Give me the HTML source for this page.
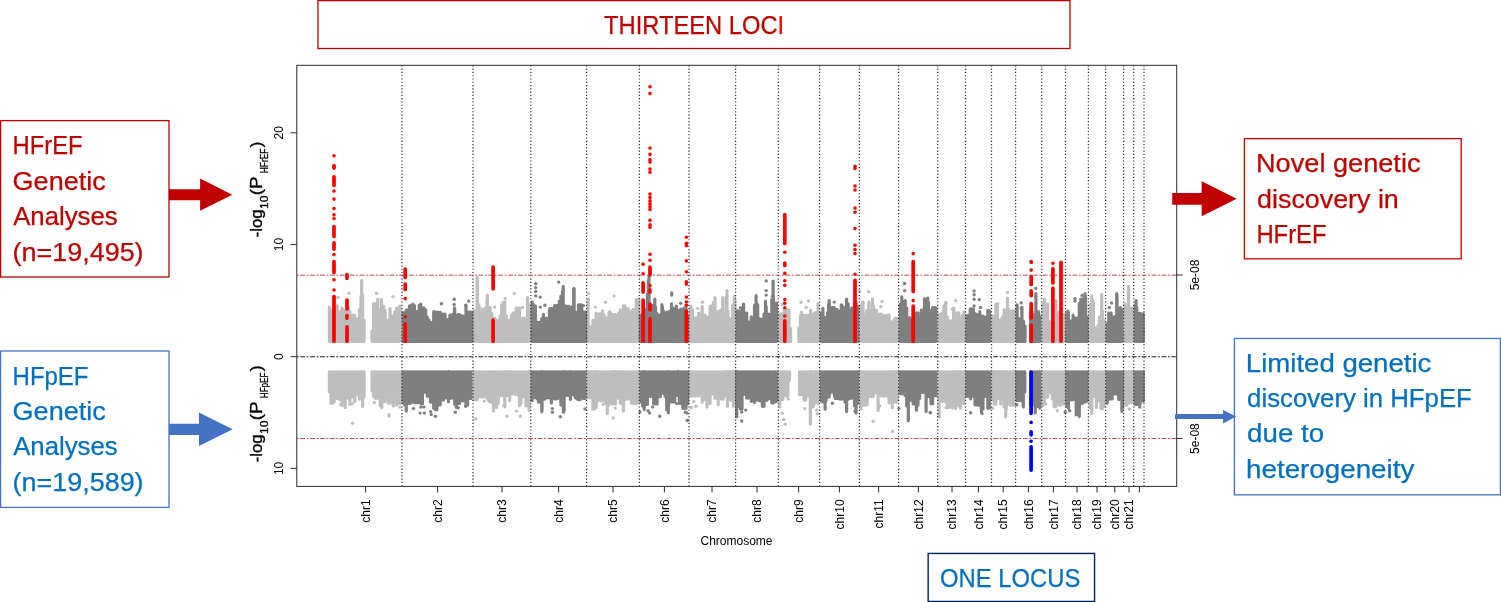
<!DOCTYPE html>
<html lang="en"><head><meta charset="utf-8"><title>HFrEF and HFpEF genetic analyses</title>
<style>html,body{margin:0;padding:0;background:#fff;overflow:hidden}svg{display:block}text{font-family:"Liberation Sans",sans-serif}.ax{font-size:12px;fill:#000}.bx{font-size:26.4px;stroke-width:.25px}.r{fill:#c00000;stroke:#c00000}.b{fill:#0070c0;stroke:#0070c0}.yl{fill:#000;stroke:#000;stroke-width:.33px;stroke-linejoin:round}</style></head><body>
<svg width="1501" height="602" viewBox="0 0 1501 602">
<rect width="1501" height="602" fill="#fff"/>
<g id="manhattan">
<path d="M361.7 341.5V280.7M329.4 341.5V307.0M331.0 341.5V309.6M332.5 341.5V315.1M334.1 341.5V309.5M335.7 341.5V309.3M337.3 341.5V305.8M338.9 341.5V312.4M340.4 341.5V311.6M342.0 341.5V308.0M343.6 341.5V310.2M345.2 341.5V311.9M346.8 341.5V311.9M348.3 341.5V306.7M349.9 341.5V311.1M351.5 341.5V320.8M353.1 341.5V315.1M354.7 341.5V315.1M356.2 341.5V323.4M357.8 341.5V318.6M359.4 341.5V309.5M361.0 341.5V296.1M362.6 341.5V294.7M364.1 341.5V320.3M377.7 341.5V299.0M381.5 341.5V299.0M383.7 341.5V306.4M389.9 341.5V316.2M372.0 341.5V331.2M373.6 341.5V303.5M375.2 341.5V303.5M376.9 341.5V309.4M378.5 341.5V309.4M380.2 341.5V309.4M381.8 341.5V310.5M383.4 341.5V310.5M385.1 341.5V310.5M386.7 341.5V320.7M388.4 341.5V320.7M390.0 341.5V308.6M391.7 341.5V315.8M393.3 341.5V315.8M394.9 341.5V311.7M396.6 341.5V308.2M398.2 341.5V308.2M399.9 341.5V306.0M473.9 341.5V310.9M477.2 341.5V277.3M484.0 341.5V313.2M487.4 341.5V295.2M497.5 341.5V320.6M504.6 341.5V306.4M518.4 341.5V313.2M522.9 341.5V320.6M528.9 341.5V304.2M474.0 341.5V315.0M475.7 341.5V310.0M477.3 341.5V281.3M478.9 341.5V304.8M480.5 341.5V309.0M482.1 341.5V309.0M483.8 341.5V318.3M485.4 341.5V308.1M487.0 341.5V299.0M488.6 341.5V307.7M490.2 341.5V307.7M491.9 341.5V313.6M493.5 341.5V318.3M495.1 341.5V318.3M496.7 341.5V324.9M498.3 341.5V324.9M500.0 341.5V315.9M501.6 341.5V305.2M503.2 341.5V302.1M504.8 341.5V302.1M506.5 341.5V315.8M508.1 341.5V320.7M509.7 341.5V320.7M511.3 341.5V315.3M512.9 341.5V313.2M514.6 341.5V313.2M516.2 341.5V308.1M517.8 341.5V308.1M519.4 341.5V308.1M521.0 341.5V318.4M522.7 341.5V318.4M524.3 341.5V318.4M525.9 341.5V323.3M527.5 341.5V297.6M529.1 341.5V308.5M587.8 341.5V306.4M596.1 341.5V313.2M609.6 341.5V311.7M614.4 341.5V315.4M618.6 341.5V313.2M638.9 341.5V299.0M588.1 341.5V300.7M589.7 341.5V326.8M591.3 341.5V326.8M592.9 341.5V320.3M594.5 341.5V320.3M596.1 341.5V321.8M597.7 341.5V321.8M599.3 341.5V313.9M600.9 341.5V313.9M602.5 341.5V310.8M604.1 341.5V315.2M605.7 341.5V320.0M607.3 341.5V317.5M608.9 341.5V313.2M610.5 341.5V313.2M612.1 341.5V314.7M613.8 341.5V314.7M615.4 341.5V314.7M617.0 341.5V315.0M618.6 341.5V315.0M620.2 341.5V309.9M621.8 341.5V312.5M623.4 341.5V305.9M625.0 341.5V305.9M626.6 341.5V308.7M628.2 341.5V308.7M629.8 341.5V311.5M631.4 341.5V311.5M633.0 341.5V309.7M634.6 341.5V309.7M636.2 341.5V299.9M637.8 341.5V299.9M691.0 341.5V306.4M702.2 341.5V306.4M713.5 341.5V302.0M722.8 341.5V297.5M727.0 341.5V290.7M735.0 341.5V300.5M690.8 341.5V309.7M692.4 341.5V309.7M694.0 341.5V319.2M695.6 341.5V317.8M697.2 341.5V317.8M698.8 341.5V313.0M700.5 341.5V314.4M702.1 341.5V307.3M703.7 341.5V315.4M705.3 341.5V315.4M706.9 341.5V317.3M708.5 341.5V317.3M710.1 341.5V306.0M711.8 341.5V306.0M713.4 341.5V302.6M715.0 341.5V297.7M716.6 341.5V311.5M718.2 341.5V311.5M719.8 341.5V310.7M721.4 341.5V309.9M723.1 341.5V314.3M724.7 341.5V314.3M726.3 341.5V297.0M727.9 341.5V311.4M729.5 341.5V318.8M731.1 341.5V318.8M732.7 341.5V305.3M734.4 341.5V296.0M779.7 341.5V314.2M781.3 341.5V314.2M782.8 341.5V314.2M784.4 341.5V309.4M785.9 341.5V309.4M787.5 341.5V310.0M789.0 341.5V310.0M790.6 341.5V328.6M801.4 341.5V312.4M806.2 341.5V315.4M810.7 341.5V310.2M814.1 341.5V315.4M818.0 341.5V303.4M798.9 341.5V327.8M800.5 341.5V315.9M802.1 341.5V315.3M803.7 341.5V315.3M805.3 341.5V318.6M806.9 341.5V318.6M808.5 341.5V315.3M810.1 341.5V315.3M811.7 341.5V314.4M813.3 341.5V314.4M814.9 341.5V312.6M816.5 341.5V312.6M818.1 341.5V309.0M863.0 341.5V302.0M866.4 341.5V310.9M869.0 341.5V302.0M872.5 341.5V299.0M860.9 341.5V305.5M862.4 341.5V304.3M864.0 341.5V316.3M865.6 341.5V316.3M867.2 341.5V316.3M868.7 341.5V303.0M870.3 341.5V310.5M871.9 341.5V310.5M873.4 341.5V305.7M875.0 341.5V310.1M876.6 341.5V310.1M878.1 341.5V319.7M879.7 341.5V314.1M881.3 341.5V314.1M882.9 341.5V316.2M884.4 341.5V315.6M886.0 341.5V315.6M887.6 341.5V315.1M889.1 341.5V315.1M890.7 341.5V322.0M892.3 341.5V322.0M893.8 341.5V320.2M895.4 341.5V318.4M897.0 341.5V318.4M950.2 341.5V321.4M953.5 341.5V310.9M958.0 341.5V314.7M939.1 341.5V314.0M940.7 341.5V314.0M942.4 341.5V312.9M944.0 341.5V306.0M945.7 341.5V302.4M947.3 341.5V316.8M949.0 341.5V320.9M950.6 341.5V320.9M952.3 341.5V320.9M953.9 341.5V308.0M955.6 341.5V317.9M957.2 341.5V312.8M958.9 341.5V312.8M960.5 341.5V320.0M962.2 341.5V315.5M963.8 341.5V312.0M1007.5 341.5V298.2M992.6 341.5V316.0M994.2 341.5V316.0M995.9 341.5V304.4M997.5 341.5V305.9M999.1 341.5V321.1M1000.8 341.5V319.3M1002.4 341.5V317.1M1004.1 341.5V309.8M1005.7 341.5V309.8M1007.3 341.5V309.6M1009.0 341.5V309.6M1010.6 341.5V311.3M1012.2 341.5V311.3M1013.9 341.5V310.7M1044.3 341.5V299.0M1053.0 341.5V322.1M1056.0 341.5V300.5M1042.9 341.5V304.0M1044.5 341.5V306.1M1046.1 341.5V306.1M1047.7 341.5V303.9M1049.3 341.5V321.8M1050.9 341.5V321.8M1052.5 341.5V324.8M1054.1 341.5V324.8M1055.7 341.5V324.8M1057.3 341.5V312.5M1058.9 341.5V312.5M1060.5 341.5V311.7M1062.1 341.5V314.4M1063.7 341.5V314.4M1092.5 341.5V302.7M1101.7 341.5V294.5M1090.3 341.5V304.4M1091.8 341.5V296.2M1093.4 341.5V301.9M1094.9 341.5V327.9M1096.4 341.5V327.9M1097.9 341.5V325.7M1099.4 341.5V316.9M1101.0 341.5V319.5M1102.5 341.5V311.2M1104.0 341.5V320.0M1128.6 341.5V286.3M1125.1 341.5V303.9M1126.8 341.5V308.8M1128.6 341.5V288.0M1130.3 341.5V308.2M1132.0 341.5V308.2" stroke="#bebebe" stroke-width="3.2" stroke-linecap="round" fill="none"/>
<path d="M412.8 341.5V304.2M434.6 341.5V314.2M454.4 341.5V307.9M471.7 341.5V312.4M403.1 341.5V312.9M404.7 341.5V312.9M406.3 341.5V310.0M407.9 341.5V310.0M409.5 341.5V305.8M411.1 341.5V305.6M412.7 341.5V305.6M414.4 341.5V305.6M416.0 341.5V311.5M417.6 341.5V311.5M419.2 341.5V305.3M420.8 341.5V304.2M422.4 341.5V307.8M424.0 341.5V307.8M425.7 341.5V309.8M427.3 341.5V317.0M428.9 341.5V319.9M430.5 341.5V322.5M432.1 341.5V322.5M433.7 341.5V311.7M435.3 341.5V312.0M436.9 341.5V312.0M438.6 341.5V312.3M440.2 341.5V312.3M441.8 341.5V314.1M443.4 341.5V314.1M445.0 341.5V314.1M446.6 341.5V319.5M448.2 341.5V319.5M449.9 341.5V315.2M451.5 341.5V315.2M453.1 341.5V314.4M454.7 341.5V308.7M456.3 341.5V321.5M457.9 341.5V314.7M459.5 341.5V314.7M461.2 341.5V315.9M462.8 341.5V315.9M464.4 341.5V316.6M466.0 341.5V305.8M467.6 341.5V312.1M469.2 341.5V312.1M470.8 341.5V312.2M532.5 341.5V304.9M546.4 341.5V319.1M549.4 341.5V310.2M563.2 341.5V286.3M574.1 341.5V288.5M585.5 341.5V312.4M532.2 341.5V302.0M533.8 341.5V305.1M535.4 341.5V306.1M537.0 341.5V322.4M538.6 341.5V322.4M540.2 341.5V322.4M541.8 341.5V318.5M543.4 341.5V314.3M545.0 341.5V318.4M546.6 341.5V318.4M548.2 341.5V324.1M549.8 341.5V308.7M551.4 341.5V308.7M553.0 341.5V308.7M554.6 341.5V305.7M556.2 341.5V305.5M557.7 341.5V305.5M559.3 341.5V301.1M560.9 341.5V296.1M562.5 341.5V291.6M564.1 341.5V306.0M565.7 341.5V306.0M567.3 341.5V306.4M568.9 341.5V306.4M570.5 341.5V311.6M572.1 341.5V306.8M573.7 341.5V288.6M575.3 341.5V312.4M576.9 341.5V312.4M578.5 341.5V304.8M580.1 341.5V304.8M581.7 341.5V304.8M583.3 341.5V312.1M584.9 341.5V312.1M640.4 341.5V315.4M648.4 341.5V280.3M654.8 341.5V299.0M662.5 341.5V307.2M682.4 341.5V309.4M641.0 341.5V317.5M642.6 341.5V314.1M644.2 341.5V309.2M645.8 341.5V313.7M647.4 341.5V293.8M649.0 341.5V277.1M650.6 341.5V308.0M652.2 341.5V305.5M653.8 341.5V305.5M655.5 341.5V307.2M657.1 341.5V313.6M658.7 341.5V317.7M660.3 341.5V314.8M661.9 341.5V304.5M663.5 341.5V311.0M665.1 341.5V316.8M666.7 341.5V312.2M668.3 341.5V312.2M669.9 341.5V311.2M671.5 341.5V303.9M673.1 341.5V308.1M674.7 341.5V310.1M676.3 341.5V306.1M677.9 341.5V310.2M679.5 341.5V310.2M681.1 341.5V309.1M682.8 341.5V309.1M684.4 341.5V307.8M686.0 341.5V307.8M687.6 341.5V316.0M737.3 341.5V314.7M751.3 341.5V316.9M761.0 341.5V319.1M766.2 341.5V306.4M773.1 341.5V281.0M737.3 341.5V310.9M738.8 341.5V310.9M740.4 341.5V317.9M742.0 341.5V309.4M743.6 341.5V304.1M745.1 341.5V313.1M746.7 341.5V313.1M748.3 341.5V322.0M749.8 341.5V322.0M751.4 341.5V322.0M753.0 341.5V321.7M754.5 341.5V305.4M756.1 341.5V295.7M757.7 341.5V304.7M759.3 341.5V318.9M760.8 341.5V322.0M762.4 341.5V322.9M764.0 341.5V313.9M765.5 341.5V301.3M767.1 341.5V314.2M768.7 341.5V314.2M770.2 341.5V315.4M771.8 341.5V299.5M773.4 341.5V295.8M775.0 341.5V303.0M776.5 341.5V303.0M828.6 341.5V306.4M838.0 341.5V312.4M841.3 341.5V304.9M844.0 341.5V313.9M846.9 341.5V302.7M851.8 341.5V307.9M821.3 341.5V313.0M822.9 341.5V308.4M824.4 341.5V317.4M826.0 341.5V317.4M827.6 341.5V312.5M829.2 341.5V300.6M830.8 341.5V315.4M832.4 341.5V307.3M833.9 341.5V307.3M835.5 341.5V309.4M837.1 341.5V309.4M838.7 341.5V311.0M840.3 341.5V311.0M841.9 341.5V305.4M843.4 341.5V307.0M845.0 341.5V310.8M846.6 341.5V299.1M848.2 341.5V303.8M849.8 341.5V310.3M851.3 341.5V310.3M852.9 341.5V310.3M854.5 341.5V302.7M856.1 341.5V302.7M857.7 341.5V306.3M905.2 341.5V300.5M909.7 341.5V317.6M917.2 341.5V317.6M924.8 341.5V304.9M928.5 341.5V302.0M900.2 341.5V304.2M901.8 341.5V296.9M903.4 341.5V301.5M905.0 341.5V305.1M906.7 341.5V308.1M908.3 341.5V322.0M909.9 341.5V322.0M911.5 341.5V319.9M913.2 341.5V321.1M914.8 341.5V317.2M916.4 341.5V312.9M918.0 341.5V312.9M919.6 341.5V318.1M921.3 341.5V310.2M922.9 341.5V310.2M924.5 341.5V298.8M926.1 341.5V304.6M927.7 341.5V298.2M929.4 341.5V310.6M931.0 341.5V310.6M932.6 341.5V307.7M934.2 341.5V307.7M935.8 341.5V307.7M967.0 341.5V315.6M968.6 341.5V315.6M970.2 341.5V308.9M971.8 341.5V308.9M973.4 341.5V308.9M975.0 341.5V313.5M976.6 341.5V314.6M978.2 341.5V314.6M979.8 341.5V311.7M981.4 341.5V316.1M983.0 341.5V316.1M984.6 341.5V317.1M986.2 341.5V317.1M987.8 341.5V310.7M989.4 341.5V310.7M1017.1 341.5V304.9M1018.7 341.5V318.9M1020.3 341.5V318.9M1021.9 341.5V307.4M1023.5 341.5V321.4M1025.1 341.5V326.0M1035.9 341.5V293.7M1038.6 341.5V311.7M1030.5 341.5V312.1M1032.1 341.5V312.1M1033.6 341.5V314.8M1035.1 341.5V314.3M1036.7 341.5V316.1M1038.2 341.5V316.4M1039.7 341.5V316.4M1067.9 341.5V310.9M1071.6 341.5V320.6M1080.6 341.5V304.2M1085.1 341.5V293.7M1066.9 341.5V313.2M1068.4 341.5V313.2M1070.0 341.5V322.6M1071.5 341.5V322.6M1073.1 341.5V315.2M1074.7 341.5V318.2M1076.2 341.5V318.2M1077.8 341.5V318.2M1079.3 341.5V303.4M1080.9 341.5V299.0M1082.4 341.5V299.0M1084.0 341.5V298.4M1085.6 341.5V298.4M1087.1 341.5V317.2M1111.2 341.5V313.2M1116.7 341.5V293.7M1107.2 341.5V323.6M1108.8 341.5V313.2M1110.5 341.5V313.2M1112.1 341.5V317.1M1113.8 341.5V317.1M1115.4 341.5V316.4M1117.0 341.5V294.6M1118.7 341.5V312.8M1120.3 341.5V307.5M1121.9 341.5V309.6M1136.1 341.5V300.5M1141.1 341.5V313.9M1143.2 341.5V313.9M1135.2 341.5V305.7M1136.8 341.5V307.8M1138.4 341.5V313.4M1140.1 341.5V313.4M1141.7 341.5V320.3M1143.3 341.5V320.3" stroke="#7f7f7f" stroke-width="3.2" stroke-linecap="round" fill="none"/>
<path d="M329.4 371.9V391.7M331.0 371.9V403.2M332.5 371.9V403.2M334.1 371.9V402.1M335.7 371.9V398.4M337.3 371.9V398.4M338.9 371.9V399.1M340.4 371.9V399.5M342.0 371.9V405.5M343.6 371.9V401.7M345.2 371.9V407.6M346.8 371.9V397.9M348.3 371.9V397.9M349.9 371.9V404.4M351.5 371.9V397.2M353.1 371.9V396.0M354.7 371.9V401.5M356.2 371.9V392.7M357.8 371.9V394.7M359.4 371.9V399.1M361.0 371.9V392.3M362.6 371.9V406.3M364.1 371.9V396.8M372.0 371.9V391.1M373.6 371.9V396.3M375.2 371.9V398.2M376.9 371.9V398.2M378.5 371.9V398.2M380.2 371.9V405.8M381.8 371.9V407.8M383.4 371.9V401.6M385.1 371.9V401.6M386.7 371.9V397.5M388.4 371.9V403.1M390.0 371.9V403.1M391.7 371.9V403.1M393.3 371.9V405.9M394.9 371.9V396.1M396.6 371.9V405.1M398.2 371.9V403.6M399.9 371.9V403.6M487.0 371.9V398.0M504.6 371.9V401.0M529.2 371.9V409.2M474.0 371.9V399.8M475.7 371.9V399.8M477.3 371.9V399.8M478.9 371.9V396.6M480.5 371.9V396.9M482.1 371.9V396.9M483.8 371.9V396.9M485.4 371.9V394.7M487.0 371.9V394.7M488.6 371.9V400.4M490.2 371.9V402.1M491.9 371.9V402.1M493.5 371.9V411.0M495.1 371.9V402.0M496.7 371.9V407.5M498.3 371.9V403.3M500.0 371.9V395.6M501.6 371.9V395.6M503.2 371.9V395.6M504.8 371.9V407.0M506.5 371.9V395.5M508.1 371.9V395.5M509.7 371.9V400.7M511.3 371.9V393.9M512.9 371.9V393.9M514.6 371.9V393.9M516.2 371.9V394.9M517.8 371.9V393.4M519.4 371.9V403.7M521.0 371.9V403.7M522.7 371.9V397.1M524.3 371.9V394.7M525.9 371.9V405.8M527.5 371.9V405.8M529.1 371.9V410.5M596.0 371.9V406.2M614.8 371.9V402.5M623.6 371.9V407.0M636.1 371.9V403.2M588.1 371.9V397.6M589.7 371.9V397.6M591.3 371.9V397.6M592.9 371.9V408.9M594.5 371.9V408.9M596.1 371.9V407.4M597.7 371.9V401.1M599.3 371.9V399.7M600.9 371.9V400.9M602.5 371.9V400.9M604.1 371.9V399.6M605.7 371.9V403.2M607.3 371.9V413.6M608.9 371.9V405.0M610.5 371.9V401.4M612.1 371.9V403.8M613.8 371.9V403.8M615.4 371.9V404.2M617.0 371.9V398.1M618.6 371.9V398.1M620.2 371.9V403.1M621.8 371.9V403.1M623.4 371.9V410.8M625.0 371.9V399.0M626.6 371.9V399.0M628.2 371.9V399.0M629.8 371.9V394.8M631.4 371.9V403.2M633.0 371.9V403.2M634.6 371.9V403.6M636.2 371.9V403.6M637.8 371.9V402.4M727.5 371.9V406.2M730.6 371.9V394.3M733.3 371.9V406.2M690.8 371.9V395.9M692.4 371.9V395.9M694.0 371.9V395.9M695.6 371.9V395.8M697.2 371.9V395.8M698.8 371.9V395.8M700.5 371.9V393.4M702.1 371.9V402.2M703.7 371.9V399.5M705.3 371.9V399.2M706.9 371.9V407.1M708.5 371.9V403.5M710.1 371.9V403.5M711.8 371.9V394.0M713.4 371.9V394.0M715.0 371.9V398.3M716.6 371.9V398.3M718.2 371.9V404.6M719.8 371.9V395.3M721.4 371.9V399.1M723.1 371.9V399.1M724.7 371.9V395.8M726.3 371.9V395.8M727.9 371.9V399.8M729.5 371.9V400.1M731.1 371.9V400.1M732.7 371.9V397.7M734.4 371.9V400.6M779.7 371.9V406.8M781.4 371.9V399.6M783.0 371.9V399.6M784.6 371.9V394.5M786.3 371.9V396.1M787.9 371.9V396.1M789.5 371.9V380.1M810.6 371.9V416.7M815.2 371.9V403.2M799.5 371.9V394.7M801.0 371.9V394.7M802.6 371.9V394.3M804.1 371.9V400.1M805.7 371.9V400.1M807.2 371.9V395.7M808.8 371.9V395.7M810.3 371.9V424.0M811.9 371.9V406.8M813.4 371.9V406.8M815.0 371.9V398.6M816.5 371.9V398.6M818.1 371.9V403.6M895.7 371.9V401.7M860.9 371.9V409.0M862.4 371.9V404.9M864.0 371.9V404.9M865.6 371.9V404.8M867.2 371.9V404.8M868.7 371.9V396.4M870.3 371.9V396.4M871.9 371.9V396.4M873.4 371.9V396.4M875.0 371.9V392.6M876.6 371.9V392.6M878.1 371.9V410.4M879.7 371.9V395.7M881.3 371.9V395.7M882.9 371.9V396.0M884.4 371.9V396.0M886.0 371.9V396.0M887.6 371.9V395.8M889.1 371.9V402.8M890.7 371.9V396.7M892.3 371.9V407.7M893.8 371.9V401.9M895.4 371.9V401.9M897.0 371.9V401.9M958.0 371.9V404.0M939.1 371.9V417.1M940.7 371.9V400.4M942.4 371.9V401.3M944.0 371.9V401.3M945.7 371.9V401.3M947.3 371.9V407.4M949.0 371.9V407.4M950.6 371.9V402.4M952.3 371.9V408.0M953.9 371.9V401.2M955.6 371.9V408.5M957.2 371.9V405.7M958.9 371.9V405.7M960.5 371.9V408.2M962.2 371.9V399.2M963.8 371.9V403.6M994.6 371.9V402.5M999.5 371.9V398.8M1006.2 371.9V409.2M1013.3 371.9V404.7M992.6 371.9V399.4M994.2 371.9V404.2M995.9 371.9V404.2M997.5 371.9V398.3M999.1 371.9V398.3M1000.8 371.9V403.8M1002.4 371.9V398.4M1004.1 371.9V406.8M1005.7 371.9V416.9M1007.3 371.9V404.7M1009.0 371.9V397.3M1010.6 371.9V405.2M1012.2 371.9V405.2M1013.9 371.9V405.2M1042.9 371.9V405.5M1044.5 371.9V402.0M1046.1 371.9V397.0M1047.7 371.9V397.1M1049.3 371.9V392.2M1050.9 371.9V392.9M1052.5 371.9V399.0M1054.1 371.9V406.8M1055.7 371.9V406.8M1057.3 371.9V400.8M1058.9 371.9V405.1M1060.5 371.9V405.1M1062.1 371.9V400.0M1063.7 371.9V404.2M1090.3 371.9V407.9M1091.8 371.9V413.3M1093.4 371.9V396.6M1094.9 371.9V396.6M1096.4 371.9V407.4M1097.9 371.9V400.4M1099.4 371.9V400.4M1101.0 371.9V408.5M1102.5 371.9V408.5M1104.0 371.9V406.7M1128.8 371.9V403.2M1132.3 371.9V398.8M1125.1 371.9V405.2M1126.8 371.9V405.2M1128.6 371.9V402.5M1130.3 371.9V402.5M1132.0 371.9V402.5" stroke="#bebebe" stroke-width="3.2" stroke-linecap="round" fill="none"/>
<path d="M416.0 371.9V397.3M448.5 371.9V401.7M403.1 371.9V402.7M404.7 371.9V404.9M406.3 371.9V411.1M407.9 371.9V403.3M409.5 371.9V403.3M411.1 371.9V402.9M412.7 371.9V401.4M414.4 371.9V402.7M416.0 371.9V402.7M417.6 371.9V402.7M419.2 371.9V401.2M420.8 371.9V403.8M422.4 371.9V403.8M424.0 371.9V392.2M425.7 371.9V392.2M427.3 371.9V396.2M428.9 371.9V396.2M430.5 371.9V402.1M432.1 371.9V402.1M433.7 371.9V408.3M435.3 371.9V409.7M436.9 371.9V409.7M438.6 371.9V404.8M440.2 371.9V404.8M441.8 371.9V399.9M443.4 371.9V399.9M445.0 371.9V397.8M446.6 371.9V397.8M448.2 371.9V398.4M449.9 371.9V398.4M451.5 371.9V398.0M453.1 371.9V398.0M454.7 371.9V404.2M456.3 371.9V407.3M457.9 371.9V403.4M459.5 371.9V403.4M461.2 371.9V400.7M462.8 371.9V400.7M464.4 371.9V400.7M466.0 371.9V405.0M467.6 371.9V405.0M469.2 371.9V398.5M470.8 371.9V398.5M542.0 371.9V410.0M563.4 371.9V412.2M570.4 371.9V399.5M532.2 371.9V400.7M533.8 371.9V397.6M535.4 371.9V397.6M537.0 371.9V398.8M538.6 371.9V402.2M540.2 371.9V401.5M541.8 371.9V411.8M543.4 371.9V399.1M545.0 371.9V399.1M546.6 371.9V397.7M548.2 371.9V397.7M549.8 371.9V397.7M551.4 371.9V403.1M553.0 371.9V395.7M554.6 371.9V398.9M556.2 371.9V398.9M557.7 371.9V398.5M559.3 371.9V397.7M560.9 371.9V404.9M562.5 371.9V404.9M564.1 371.9V411.1M565.7 371.9V395.4M567.3 371.9V395.3M568.9 371.9V395.3M570.5 371.9V394.7M572.1 371.9V394.7M573.7 371.9V394.7M575.3 371.9V397.5M576.9 371.9V398.9M578.5 371.9V399.7M580.1 371.9V399.7M581.7 371.9V394.1M583.3 371.9V398.4M584.9 371.9V398.4M643.6 371.9V402.5M668.6 371.9V406.2M678.0 371.9V394.3M641.0 371.9V401.9M642.6 371.9V405.8M644.2 371.9V409.6M645.8 371.9V404.4M647.4 371.9V404.4M649.0 371.9V396.3M650.6 371.9V396.3M652.2 371.9V396.3M653.8 371.9V403.9M655.5 371.9V403.9M657.1 371.9V403.9M658.7 371.9V396.7M660.3 371.9V396.7M661.9 371.9V393.2M663.5 371.9V393.2M665.1 371.9V396.2M666.7 371.9V409.7M668.3 371.9V412.8M669.9 371.9V400.3M671.5 371.9V401.9M673.1 371.9V401.9M674.7 371.9V401.9M676.3 371.9V393.8M677.9 371.9V395.8M679.5 371.9V403.3M681.1 371.9V403.3M682.8 371.9V408.3M684.4 371.9V408.3M686.0 371.9V408.3M687.6 371.9V403.8M736.7 371.9V416.7M770.0 371.9V398.8M775.2 371.9V401.7M737.3 371.9V406.4M738.8 371.9V406.4M740.4 371.9V408.8M742.0 371.9V408.8M743.6 371.9V394.3M745.1 371.9V394.3M746.7 371.9V398.1M748.3 371.9V398.1M749.8 371.9V390.0M751.4 371.9V401.3M753.0 371.9V397.5M754.5 371.9V402.4M756.1 371.9V400.0M757.7 371.9V400.0M759.3 371.9V400.7M760.8 371.9V400.7M762.4 371.9V406.3M764.0 371.9V406.3M765.5 371.9V400.3M767.1 371.9V400.3M768.7 371.9V397.8M770.2 371.9V398.6M771.8 371.9V402.9M773.4 371.9V402.9M775.0 371.9V401.3M776.5 371.9V401.3M825.1 371.9V409.2M834.6 371.9V396.5M839.1 371.9V398.8M855.9 371.9V409.2M821.3 371.9V401.2M822.9 371.9V402.0M824.4 371.9V400.8M826.0 371.9V400.8M827.6 371.9V396.9M829.2 371.9V396.9M830.8 371.9V392.1M832.4 371.9V392.1M833.9 371.9V392.1M835.5 371.9V398.5M837.1 371.9V398.5M838.7 371.9V398.5M840.3 371.9V399.1M841.9 371.9V399.1M843.4 371.9V399.1M845.0 371.9V402.1M846.6 371.9V411.6M848.2 371.9V399.3M849.8 371.9V398.3M851.3 371.9V398.3M852.9 371.9V397.5M854.5 371.9V405.7M856.1 371.9V413.0M857.7 371.9V403.2M900.2 371.9V393.7M901.8 371.9V393.7M903.4 371.9V393.7M905.0 371.9V395.3M906.7 371.9V405.9M908.3 371.9V420.7M909.9 371.9V399.4M911.5 371.9V400.5M913.2 371.9V404.0M914.8 371.9V404.0M916.4 371.9V410.2M918.0 371.9V405.1M919.6 371.9V398.4M921.3 371.9V392.5M922.9 371.9V392.5M924.5 371.9V392.5M926.1 371.9V411.6M927.7 371.9V396.6M929.4 371.9V396.6M931.0 371.9V403.7M932.6 371.9V403.7M934.2 371.9V395.7M935.8 371.9V395.7M970.7 371.9V398.8M977.5 371.9V404.7M982.7 371.9V407.7M967.0 371.9V396.2M968.6 371.9V396.2M970.2 371.9V395.9M971.8 371.9V395.9M973.4 371.9V395.9M975.0 371.9V404.8M976.6 371.9V404.8M978.2 371.9V405.2M979.8 371.9V405.2M981.4 371.9V411.8M983.0 371.9V408.9M984.6 371.9V396.3M986.2 371.9V396.3M987.8 371.9V408.3M989.4 371.9V408.1M1016.8 371.9V395.8M1017.1 371.9V400.7M1018.6 371.9V400.7M1020.2 371.9V397.0M1021.7 371.9V400.9M1023.3 371.9V406.9M1024.8 371.9V391.9M1031.3 371.9V403.2M1038.9 371.9V403.2M1030.8 371.9V405.2M1032.3 371.9V405.2M1033.8 371.9V400.6M1035.3 371.9V413.0M1036.8 371.9V406.4M1038.3 371.9V406.4M1039.7 371.9V408.1M1066.9 371.9V406.5M1068.4 371.9V408.3M1070.0 371.9V399.8M1071.5 371.9V399.8M1073.1 371.9V399.8M1074.7 371.9V398.1M1076.2 371.9V414.8M1077.8 371.9V411.4M1079.3 371.9V416.6M1080.9 371.9V403.3M1082.4 371.9V403.3M1084.0 371.9V402.0M1085.6 371.9V402.0M1087.1 371.9V400.9M1122.4 371.9V407.7M1107.2 371.9V403.1M1108.8 371.9V398.9M1110.5 371.9V398.9M1112.1 371.9V398.9M1113.8 371.9V393.9M1115.4 371.9V393.9M1117.0 371.9V393.9M1118.7 371.9V399.6M1120.3 371.9V398.9M1121.9 371.9V411.4M1135.2 371.9V404.4M1136.8 371.9V404.4M1138.4 371.9V404.4M1140.1 371.9V404.2M1141.7 371.9V396.7M1143.3 371.9V401.3" stroke="#7f7f7f" stroke-width="3.2" stroke-linecap="round" fill="none"/>
<g fill="#bebebe"><circle cx="338.2" cy="297.4" r="1.7"/><circle cx="349.1" cy="293.2" r="1.7"/><circle cx="376.5" cy="293.2" r="1.7"/><circle cx="392.9" cy="296.6" r="1.7"/><circle cx="514.3" cy="293.6" r="1.7"/><circle cx="505.3" cy="298.6" r="1.7"/><circle cx="503.1" cy="303.8" r="1.7"/><circle cx="494.6" cy="307.1" r="1.7"/><circle cx="522.5" cy="307.5" r="1.7"/><circle cx="588.6" cy="293.6" r="1.7"/><circle cx="588.6" cy="299.2" r="1.7"/><circle cx="595.5" cy="307.1" r="1.7"/><circle cx="605.5" cy="302.3" r="1.7"/><circle cx="614.0" cy="295.9" r="1.7"/><circle cx="697.7" cy="308.6" r="1.7"/><circle cx="702.6" cy="302.3" r="1.7"/><circle cx="733.3" cy="308.1" r="1.7"/><circle cx="801.0" cy="302.3" r="1.7"/><circle cx="808.5" cy="301.1" r="1.7"/><circle cx="806.2" cy="307.5" r="1.7"/><circle cx="782.3" cy="304.4" r="1.7"/><circle cx="859.7" cy="291.4" r="1.7"/><circle cx="868.7" cy="291.8" r="1.7"/><circle cx="882.1" cy="301.4" r="1.7"/><circle cx="880.7" cy="306.8" r="1.7"/><circle cx="946.1" cy="303.3" r="1.7"/><circle cx="955.7" cy="300.8" r="1.7"/><circle cx="952.4" cy="309.0" r="1.7"/><circle cx="1007.4" cy="292.4" r="1.7"/><circle cx="997.7" cy="303.6" r="1.7"/><circle cx="1092.9" cy="300.7" r="1.7"/><circle cx="340.9" cy="404.8" r="1.7"/><circle cx="352.1" cy="403.8" r="1.7"/><circle cx="352.6" cy="423.2" r="1.7"/><circle cx="374.3" cy="402.6" r="1.7"/><circle cx="389.0" cy="414.6" r="1.7"/><circle cx="389.0" cy="416.0" r="1.7"/><circle cx="400.0" cy="407.1" r="1.7"/><circle cx="484.4" cy="401.1" r="1.7"/><circle cx="475.7" cy="418.7" r="1.7"/><circle cx="507.1" cy="416.3" r="1.7"/><circle cx="520.3" cy="416.3" r="1.7"/><circle cx="516.5" cy="411.1" r="1.7"/><circle cx="503.8" cy="405.6" r="1.7"/><circle cx="519.5" cy="405.6" r="1.7"/><circle cx="615.2" cy="408.1" r="1.7"/><circle cx="613.2" cy="418.0" r="1.7"/><circle cx="603.2" cy="404.4" r="1.7"/><circle cx="691.4" cy="407.5" r="1.7"/><circle cx="695.9" cy="406.3" r="1.7"/><circle cx="693.7" cy="401.5" r="1.7"/><circle cx="782.3" cy="413.1" r="1.7"/><circle cx="783.8" cy="419.5" r="1.7"/><circle cx="785.3" cy="424.3" r="1.7"/><circle cx="788.3" cy="398.9" r="1.7"/><circle cx="804.7" cy="408.6" r="1.7"/><circle cx="816.7" cy="410.1" r="1.7"/><circle cx="817.4" cy="413.8" r="1.7"/><circle cx="873.2" cy="421.3" r="1.7"/><circle cx="892.6" cy="431.4" r="1.7"/><circle cx="879.5" cy="406.0" r="1.7"/><circle cx="946.1" cy="407.8" r="1.7"/><circle cx="992.5" cy="408.3" r="1.7"/><circle cx="1045.8" cy="404.1" r="1.7"/><circle cx="1057.3" cy="410.8" r="1.7"/><circle cx="1129.5" cy="409.0" r="1.7"/></g>
<g fill="#7f7f7f"><circle cx="441.4" cy="303.8" r="1.7"/><circle cx="454.2" cy="299.3" r="1.7"/><circle cx="454.2" cy="304.4" r="1.7"/><circle cx="465.7" cy="305.1" r="1.7"/><circle cx="468.7" cy="301.1" r="1.7"/><circle cx="535.7" cy="283.6" r="1.7"/><circle cx="535.7" cy="287.6" r="1.7"/><circle cx="535.7" cy="291.4" r="1.7"/><circle cx="535.7" cy="295.9" r="1.7"/><circle cx="540.2" cy="297.1" r="1.7"/><circle cx="558.7" cy="282.1" r="1.7"/><circle cx="544.9" cy="305.3" r="1.7"/><circle cx="540.2" cy="307.1" r="1.7"/><circle cx="583.5" cy="305.6" r="1.7"/><circle cx="671.7" cy="292.9" r="1.7"/><circle cx="671.7" cy="295.1" r="1.7"/><circle cx="680.7" cy="303.3" r="1.7"/><circle cx="766.2" cy="280.9" r="1.7"/><circle cx="766.2" cy="290.6" r="1.7"/><circle cx="766.2" cy="295.1" r="1.7"/><circle cx="740.5" cy="307.8" r="1.7"/><circle cx="772.6" cy="296.2" r="1.7"/><circle cx="834.2" cy="302.1" r="1.7"/><circle cx="828.6" cy="304.8" r="1.7"/><circle cx="904.6" cy="283.5" r="1.7"/><circle cx="904.6" cy="290.6" r="1.7"/><circle cx="974.1" cy="290.9" r="1.7"/><circle cx="974.1" cy="294.7" r="1.7"/><circle cx="974.1" cy="299.2" r="1.7"/><circle cx="979.3" cy="299.6" r="1.7"/><circle cx="974.1" cy="306.0" r="1.7"/><circle cx="980.5" cy="307.5" r="1.7"/><circle cx="1021.2" cy="302.9" r="1.7"/><circle cx="1021.2" cy="308.1" r="1.7"/><circle cx="1035.8" cy="288.4" r="1.7"/><circle cx="1075.0" cy="298.6" r="1.7"/><circle cx="1075.0" cy="301.1" r="1.7"/><circle cx="1082.1" cy="295.4" r="1.7"/><circle cx="1111.6" cy="303.0" r="1.7"/><circle cx="1109.3" cy="307.5" r="1.7"/><circle cx="413.4" cy="408.6" r="1.7"/><circle cx="420.9" cy="407.1" r="1.7"/><circle cx="423.9" cy="407.1" r="1.7"/><circle cx="420.1" cy="413.1" r="1.7"/><circle cx="424.3" cy="413.1" r="1.7"/><circle cx="430.6" cy="411.6" r="1.7"/><circle cx="431.3" cy="414.6" r="1.7"/><circle cx="435.4" cy="416.3" r="1.7"/><circle cx="455.3" cy="412.3" r="1.7"/><circle cx="458.2" cy="407.8" r="1.7"/><circle cx="465.7" cy="406.3" r="1.7"/><circle cx="552.4" cy="408.6" r="1.7"/><circle cx="552.4" cy="412.3" r="1.7"/><circle cx="560.3" cy="416.8" r="1.7"/><circle cx="585.0" cy="409.0" r="1.7"/><circle cx="639.9" cy="412.0" r="1.7"/><circle cx="648.1" cy="410.8" r="1.7"/><circle cx="649.6" cy="413.1" r="1.7"/><circle cx="652.6" cy="407.1" r="1.7"/><circle cx="659.7" cy="416.3" r="1.7"/><circle cx="676.9" cy="403.6" r="1.7"/><circle cx="679.5" cy="399.2" r="1.7"/><circle cx="685.4" cy="412.3" r="1.7"/><circle cx="687.2" cy="420.5" r="1.7"/><circle cx="686.9" cy="413.1" r="1.7"/><circle cx="741.7" cy="412.0" r="1.7"/><circle cx="745.7" cy="410.1" r="1.7"/><circle cx="741.7" cy="421.0" r="1.7"/><circle cx="832.4" cy="403.3" r="1.7"/><circle cx="855.2" cy="411.3" r="1.7"/><circle cx="898.9" cy="408.6" r="1.7"/><circle cx="930.3" cy="412.8" r="1.7"/><circle cx="930.4" cy="412.6" r="1.7"/><circle cx="970.7" cy="412.8" r="1.7"/><circle cx="982.0" cy="413.4" r="1.7"/><circle cx="1021.2" cy="400.4" r="1.7"/><circle cx="1016.7" cy="404.8" r="1.7"/><circle cx="1065.3" cy="412.3" r="1.7"/><circle cx="1069.7" cy="410.8" r="1.7"/><circle cx="1122.1" cy="408.6" r="1.7"/><circle cx="1139.7" cy="407.1" r="1.7"/></g>
<path d="M334.0 165.5V168.1M334.0 176.8V185.5M334.0 226.5V236.6M334.0 242.8V249.1M334.0 261.5V272.5M334.0 296.6V341.2M347.0 274.6V278.3M347.0 300.0V308.9M347.0 315.5V318.1M347.0 326.9V341.2M405.2 269.1V277.5M405.2 284.2V289.5M405.2 323.9V341.2M493.1 267.1V288.8M493.1 320.2V341.2M643.1 282.9V292.1M643.1 300.1V341.2M650.0 267.0V274.8M650.0 304.2V309.8M650.0 318.7V341.2M686.4 311.2V341.2M784.8 214.7V243.5M784.8 263.1V265.5M784.8 320.9V341.2M855.0 280.4V341.2M913.2 261.5V291.4M913.2 306.2V341.2M1031.2 261.5V262.2M1031.2 276.5V284.4M1031.2 290.9V295.6M1031.2 303.6V317.9M1031.2 325.4V341.2M1052.9 268.8V282.9M1052.9 288.2V341.2M1061.0 262.4V341.2" stroke="#ff0000" stroke-width="3.7" stroke-linecap="round" fill="none"/>
<g fill="#ff0000"><circle cx="334.0" cy="155.7" r="1.8"/><circle cx="334.0" cy="191.1" r="1.8"/><circle cx="334.0" cy="199.1" r="1.8"/><circle cx="334.0" cy="208.5" r="1.8"/><circle cx="334.0" cy="214.8" r="1.8"/><circle cx="334.0" cy="218.5" r="1.8"/><circle cx="334.0" cy="254.6" r="1.8"/><circle cx="334.0" cy="279.8" r="1.8"/><circle cx="334.0" cy="290.0" r="1.8"/><circle cx="405.2" cy="298.6" r="1.8"/><circle cx="405.2" cy="316.8" r="1.8"/><circle cx="643.1" cy="264.2" r="1.8"/><circle cx="643.1" cy="273.7" r="1.8"/><circle cx="650.0" cy="86.7" r="1.8"/><circle cx="650.0" cy="93.6" r="1.8"/><circle cx="650.0" cy="148.1" r="1.8"/><circle cx="650.0" cy="154.4" r="1.8"/><circle cx="650.0" cy="159.8" r="1.8"/><circle cx="650.0" cy="162.1" r="1.8"/><circle cx="650.0" cy="169.1" r="1.8"/><circle cx="650.0" cy="172.3" r="1.8"/><circle cx="650.0" cy="194.0" r="1.8"/><circle cx="650.0" cy="197.4" r="1.8"/><circle cx="650.0" cy="200.9" r="1.8"/><circle cx="650.0" cy="203.9" r="1.8"/><circle cx="650.0" cy="206.7" r="1.8"/><circle cx="650.0" cy="209.5" r="1.8"/><circle cx="650.0" cy="220.2" r="1.8"/><circle cx="650.0" cy="224.9" r="1.8"/><circle cx="650.0" cy="227.2" r="1.8"/><circle cx="650.0" cy="254.3" r="1.8"/><circle cx="650.0" cy="260.3" r="1.8"/><circle cx="650.0" cy="285.6" r="1.8"/><circle cx="650.0" cy="290.0" r="1.8"/><circle cx="650.0" cy="292.3" r="1.8"/><circle cx="686.4" cy="237.3" r="1.8"/><circle cx="686.4" cy="243.2" r="1.8"/><circle cx="686.4" cy="245.6" r="1.8"/><circle cx="686.4" cy="260.9" r="1.8"/><circle cx="686.4" cy="271.8" r="1.8"/><circle cx="686.4" cy="281.8" r="1.8"/><circle cx="686.4" cy="284.1" r="1.8"/><circle cx="686.4" cy="297.1" r="1.8"/><circle cx="686.4" cy="302.0" r="1.8"/><circle cx="686.4" cy="305.2" r="1.8"/><circle cx="784.8" cy="252.3" r="1.8"/><circle cx="784.8" cy="273.4" r="1.8"/><circle cx="784.8" cy="280.7" r="1.8"/><circle cx="784.8" cy="285.2" r="1.8"/><circle cx="784.8" cy="299.6" r="1.8"/><circle cx="784.8" cy="303.3" r="1.8"/><circle cx="784.8" cy="307.8" r="1.8"/><circle cx="784.8" cy="316.0" r="1.8"/><circle cx="855.0" cy="166.3" r="1.8"/><circle cx="855.0" cy="168.6" r="1.8"/><circle cx="855.0" cy="186.0" r="1.8"/><circle cx="855.0" cy="190.0" r="1.8"/><circle cx="855.0" cy="208.1" r="1.8"/><circle cx="855.0" cy="212.3" r="1.8"/><circle cx="855.0" cy="228.6" r="1.8"/><circle cx="855.0" cy="245.3" r="1.8"/><circle cx="855.0" cy="249.5" r="1.8"/><circle cx="855.0" cy="253.5" r="1.8"/><circle cx="855.0" cy="274.2" r="1.8"/><circle cx="913.2" cy="253.6" r="1.8"/><circle cx="913.2" cy="300.6" r="1.8"/><circle cx="1031.2" cy="270.1" r="1.8"/><circle cx="1052.9" cy="263.2" r="1.8"/></g>
<path d="M1031.1 372.2V413.3M1031.1 431.8V434.8M1031.1 446.8V470.1" stroke="#0000ff" stroke-width="3.7" stroke-linecap="round" fill="none"/>
<g fill="#0000ff"><circle cx="1031.1" cy="422.4" r="1.8"/><circle cx="1031.1" cy="441.2" r="1.8"/></g>
</g>
<g fill="none" stroke-width="0.9">
<path d="M296.8 275.15H1176.7M296.8 438.5H1176.7" stroke="#b22a3a" stroke-opacity=".85" stroke-dasharray="4.9 1.6 1.8 1.6" stroke-dashoffset="6.5" stroke-width="1"/>
<path d="M296.8 356.7H1176.7" stroke="#222" stroke-dasharray="4.9 1.6 1.8 1.6" stroke-dashoffset="6.5" stroke-width="1.1"/>
<path d="M402.0 65.3V486.4M473.0 65.3V486.4M530.8 65.3V486.4M586.6 65.3V486.4M639.4 65.3V486.4M689.0 65.3V486.4M735.6 65.3V486.4M778.3 65.3V486.4M819.6 65.3V486.4M859.4 65.3V486.4M898.6 65.3V486.4M937.7 65.3V486.4M965.5 65.3V486.4M991.5 65.3V486.4M1015.6 65.3V486.4M1041.7 65.3V486.4M1065.5 65.3V486.4M1088.4 65.3V486.4M1105.6 65.3V486.4M1123.6 65.3V486.4M1133.7 65.3V486.4M1144.0 65.3V486.4" stroke="#2e2e2e" stroke-dasharray="1.15 2.13" stroke-width="1.25"/>
</g>
<g fill="none" stroke="#2b2b2b" stroke-width="1">
<rect x="296.8" y="65.3" width="879.9" height="421.1"/>
<path d="M365.6 486.4v6M437.6 486.4v6M502.0 486.4v6M558.6 486.4v6M613.0 486.4v6M664.4 486.4v6M712.0 486.4v6M757.0 486.4v6M798.6 486.4v6M839.4 486.4v6M878.6 486.4v6M918.4 486.4v6M952.0 486.4v6M978.4 486.4v6M1003.2 486.4v6M1028.4 486.4v6M1053.4 486.4v6M1077.0 486.4v6M1097.0 486.4v6M1114.8 486.4v6M1129.0 486.4v6M1139.4 486.4v6M296.8 132.8h-6.3M296.8 244.6h-6.3M296.8 356.7h-6.3M296.8 468.4h-6.3M1176.7 275.0h5.8M1176.7 438.5h5.8"/>
</g>
<g class="ax">
<text transform="translate(369.8 499.4) rotate(-90)" text-anchor="end">chr1</text>
<text transform="translate(441.8 499.4) rotate(-90)" text-anchor="end">chr2</text>
<text transform="translate(506.2 499.4) rotate(-90)" text-anchor="end">chr3</text>
<text transform="translate(562.8 499.4) rotate(-90)" text-anchor="end">chr4</text>
<text transform="translate(617.2 499.4) rotate(-90)" text-anchor="end">chr5</text>
<text transform="translate(668.6 499.4) rotate(-90)" text-anchor="end">chr6</text>
<text transform="translate(716.2 499.4) rotate(-90)" text-anchor="end">chr7</text>
<text transform="translate(761.2 499.4) rotate(-90)" text-anchor="end">chr8</text>
<text transform="translate(802.8 499.4) rotate(-90)" text-anchor="end">chr9</text>
<text transform="translate(843.6 499.4) rotate(-90)" text-anchor="end">chr10</text>
<text transform="translate(882.8 499.4) rotate(-90)" text-anchor="end">chr11</text>
<text transform="translate(922.6 499.4) rotate(-90)" text-anchor="end">chr12</text>
<text transform="translate(956.2 499.4) rotate(-90)" text-anchor="end">chr13</text>
<text transform="translate(982.6 499.4) rotate(-90)" text-anchor="end">chr14</text>
<text transform="translate(1007.4 499.4) rotate(-90)" text-anchor="end">chr15</text>
<text transform="translate(1032.6 499.4) rotate(-90)" text-anchor="end">chr16</text>
<text transform="translate(1057.6 499.4) rotate(-90)" text-anchor="end">chr17</text>
<text transform="translate(1081.2 499.4) rotate(-90)" text-anchor="end">chr18</text>
<text transform="translate(1101.2 499.4) rotate(-90)" text-anchor="end">chr19</text>
<text transform="translate(1119.0 499.4) rotate(-90)" text-anchor="end">chr20</text>
<text transform="translate(1133.2 499.4) rotate(-90)" text-anchor="end">chr21</text>
<text transform="translate(283.4 132.8) rotate(-90)" text-anchor="middle">20</text>
<text transform="translate(283.4 244.6) rotate(-90)" text-anchor="middle">10</text>
<text transform="translate(283.4 356.7) rotate(-90)" text-anchor="middle">0</text>
<text transform="translate(283.4 468.4) rotate(-90)" text-anchor="middle">10</text>
<text transform="translate(1199.2 275.0) rotate(-90)" text-anchor="middle">5e-08</text>
<text transform="translate(1199.2 438.6) rotate(-90)" text-anchor="middle">5e-08</text>
<text x="736.5" y="545.2" text-anchor="middle">Chromosome</text>
</g>
<text class="yl" transform="translate(262.0 237.3) rotate(-90)" font-size="15.6" textLength="28.0" lengthAdjust="spacingAndGlyphs">-log</text>
<text class="yl" transform="translate(268.0 208.9) rotate(-90)" font-size="10.5" style="stroke-width:.3px" textLength="13.4" lengthAdjust="spacingAndGlyphs">10</text>
<text class="yl" transform="translate(262.0 195.3) rotate(-90)" font-size="15.6" textLength="18.9" lengthAdjust="spacingAndGlyphs">(P</text>
<text class="yl" transform="translate(268.0 173.2) rotate(-90)" font-size="10.5" style="stroke-width:.3px" textLength="24.7" lengthAdjust="spacingAndGlyphs">HFrEF</text>
<text class="yl" transform="translate(262.0 147.6) rotate(-90)" font-size="15.6" textLength="5.8" lengthAdjust="spacingAndGlyphs">)</text>
<text class="yl" transform="translate(262.0 462.3) rotate(-90)" font-size="15.6" textLength="28.0" lengthAdjust="spacingAndGlyphs">-log</text>
<text class="yl" transform="translate(268.0 433.9) rotate(-90)" font-size="10.5" style="stroke-width:.3px" textLength="13.4" lengthAdjust="spacingAndGlyphs">10</text>
<text class="yl" transform="translate(262.0 420.3) rotate(-90)" font-size="15.6" textLength="18.9" lengthAdjust="spacingAndGlyphs">(P</text>
<text class="yl" transform="translate(268.0 398.2) rotate(-90)" font-size="10.5" style="stroke-width:.3px" textLength="25.7" lengthAdjust="spacingAndGlyphs">HFpEF</text>
<text class="yl" transform="translate(262.0 371.6) rotate(-90)" font-size="15.6" textLength="6.3" lengthAdjust="spacingAndGlyphs">)</text>
<rect x="317.95" y="0.6" width="752.0" height="47.9" fill="none" stroke="#c00000" stroke-width="1.3"/>
<text class="bx r" x="604.0" y="34.3" textLength="180.2" lengthAdjust="spacingAndGlyphs">THIRTEEN LOC<tspan fill="#ff0000" stroke="#ff0000">I</tspan></text>
<rect x="0.6" y="120.6" width="168.4" height="156.4" fill="none" stroke="#c00000" stroke-width="1.3"/>
<text class="bx r" x="12.6" y="154.0" textLength="70.0" lengthAdjust="spacingAndGlyphs">HFrEF</text>
<text class="bx r" x="12.6" y="189.6" textLength="93.1" lengthAdjust="spacingAndGlyphs">Genetic</text>
<text class="bx r" x="13.2" y="225.1" textLength="104.5" lengthAdjust="spacingAndGlyphs">Analyses</text>
<text class="bx r" x="12.6" y="260.5" textLength="131.0" lengthAdjust="spacingAndGlyphs">(n=19,495)</text>
<rect x="0.6" y="351.0" width="168.4" height="156.4" fill="none" stroke="#4472c4" stroke-width="1.3"/>
<text class="bx b" x="12.6" y="384.6" textLength="75.9" lengthAdjust="spacingAndGlyphs">HFpEF</text>
<text class="bx b" x="12.6" y="420.1" textLength="93.1" lengthAdjust="spacingAndGlyphs">Genetic</text>
<text class="bx b" x="13.2" y="455.4" textLength="104.5" lengthAdjust="spacingAndGlyphs">Analyses</text>
<text class="bx b" x="12.6" y="490.8" textLength="131.0" lengthAdjust="spacingAndGlyphs">(n=19,589)</text>
<rect x="1244.4" y="138.6" width="216.8" height="120.2" fill="none" stroke="#c00000" stroke-width="1.3"/>
<text class="bx r" x="1256.0" y="172.1" textLength="164.5" lengthAdjust="spacingAndGlyphs">Novel genetic</text>
<text class="bx r" x="1257.1" y="207.7" textLength="141.7" lengthAdjust="spacingAndGlyphs">discovery in</text>
<text class="bx r" x="1256.4" y="243.3" textLength="70.1" lengthAdjust="spacingAndGlyphs">HFrEF</text>
<rect x="1234.4" y="338.45" width="266.0" height="156.4" fill="none" stroke="#4472c4" stroke-width="1.3"/>
<text class="bx b" x="1245.8" y="371.5" textLength="185.6" lengthAdjust="spacingAndGlyphs">Limited genetic</text>
<text class="bx b" x="1247.1" y="406.9" textLength="224.7" lengthAdjust="spacingAndGlyphs">discovery in HFpEF</text>
<text class="bx b" x="1247.1" y="442.4" textLength="77.0" lengthAdjust="spacingAndGlyphs">due to</text>
<text class="bx b" x="1246.1" y="477.9" textLength="168.2" lengthAdjust="spacingAndGlyphs">heterogeneity</text>
<rect x="928.15" y="553.45" width="166.4" height="48.0" fill="none" stroke="#002060" stroke-width="1.4"/>
<text class="bx b" x="940.1" y="586.9" textLength="140.2" lengthAdjust="spacingAndGlyphs">ONE LOCUS</text>
<polygon points="169.0,189.2 200.1,189.2 200.1,178.5 232.3,194.7 200.1,210.8 200.1,200.2 169.0,200.2" fill="#c00000"/>
<polygon points="169.0,423.8 199.0,423.8 199.0,412.6 232.7,429.35 199.0,446.1 199.0,434.9 169.0,434.9" fill="#4472c4"/>
<polygon points="1172.2,192.9 1201.65,192.9 1201.65,181.3 1236.7,198.8 1201.65,216.3 1201.65,204.7 1172.2,204.7" fill="#c00000"/>
<polygon points="1175.0,414.1 1223.1,414.1 1223.1,409.9 1236.2,416.6 1223.1,423.4 1223.1,419.1 1175.0,419.1" fill="#4472c4"/>
</svg></body></html>
